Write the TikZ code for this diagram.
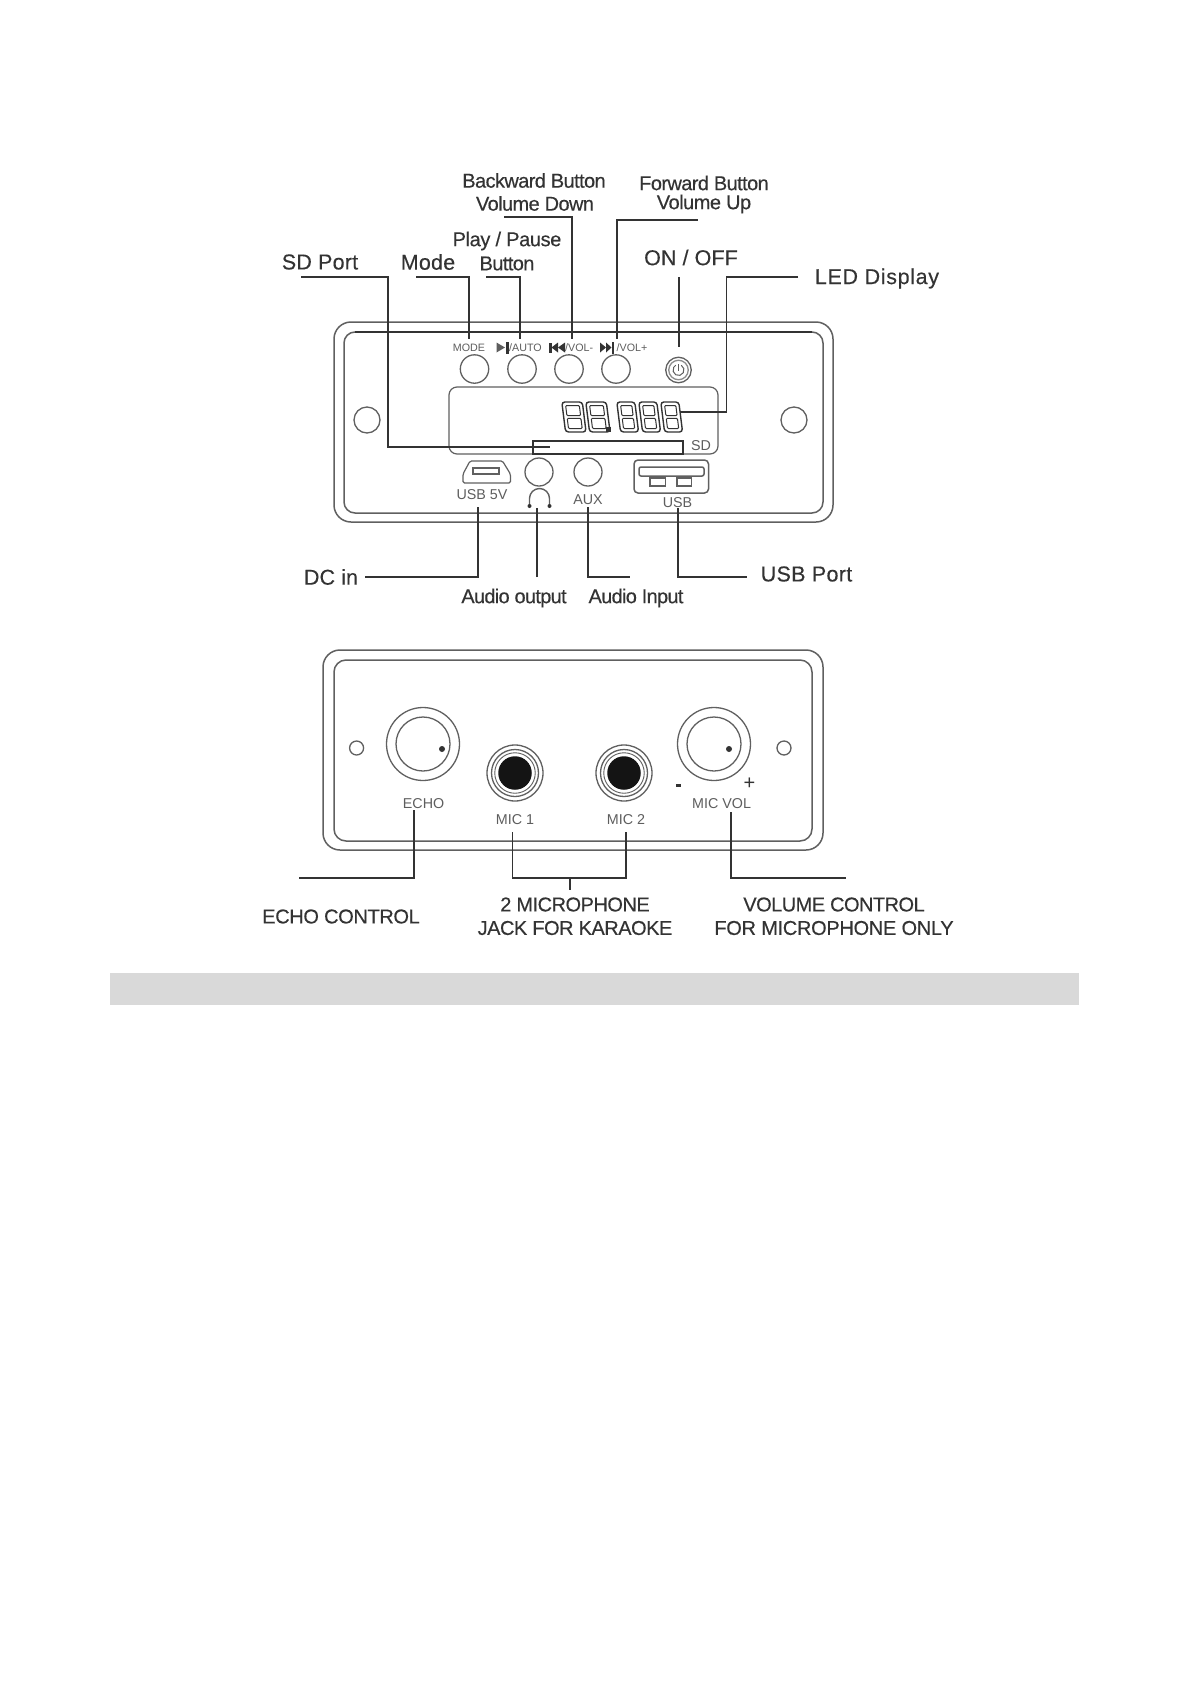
\documentclass[tikz,border=0pt]{standalone}
\usepackage{fontspec}
\setmainfont{Liberation Sans}
\definecolor{ink}{HTML}{333333}
\definecolor{panel}{HTML}{606060}
\definecolor{soft}{HTML}{5E5E5E}
\tikzset{
  lab/.style={inner sep=0pt,anchor=center,text=ink,font=\fontsize{20}{24}\selectfont\addfontfeature{LetterSpace=#1,FakeBold=0.35}},
  widelab/.style={inner sep=0pt,anchor=center,text=ink,font=\fontsize{21.5}{24}\selectfont\addfontfeature{LetterSpace=#1,FakeBold=0.25}},
  tiny/.style={inner sep=0pt,anchor=center,text=soft,font=\fontsize{10.7}{12}\selectfont},
  small/.style={inner sep=0pt,anchor=center,text=soft,font=\fontsize{14.3}{16}\selectfont},
  lead/.style={draw=ink,line width=1.35pt},
  shell/.style={draw=panel,line width=1.5pt},
  part/.style={circle,draw=panel,line width=1.3pt,inner sep=0pt,minimum size=#1},
}
\begin{document}
\begin{tikzpicture}[x=1pt,y=-1pt]
\useasboundingbox (0,0) rectangle (1191,1684);
\fill[white] (0,0) rectangle (1191,1684);
% front panel
\draw[shell,rounded corners=17pt] (334,322) rectangle (833,522);
\draw[shell,rounded corners=11pt] (344,332) rectangle (823,513);
\draw[ink,line width=1.3pt] (355,332) -- (812,332);
\node[part=26pt] (holeL) at (367,420) {};
\node[part=26pt] (holeR) at (794,420) {};
\node[part=28.4pt] (btnMode) at (474.5,369) {};
\node[part=28.4pt] (btnPlay) at (522,369) {};
\node[part=28.4pt] (btnBack) at (569,369) {};
\node[part=28.4pt] (btnFwd) at (616,369) {};
\node[part=25.5pt] (btnPower) at (678.5,370) {};
\node[part=19.5pt,draw=soft!70] (btnPowerIn) at (678.5,370) {};
\draw[soft,line width=1pt] (678.5,370) ++(-60:5.5) arc[start angle=-60,end angle=240,radius=5.5];
\draw[soft,line width=1pt] (678.5,364) -- (678.5,371);
\draw[shell,rounded corners=8pt,line width=1.2pt] (449,387) rectangle (718,454);
\draw[draw=ink,line width=1.4pt] (533,454) -- (533,441) -- (683,441) -- (683,454) -- cycle;
\foreach \d/\w in {558/20.5,582/20.5,613/18,635/18,657/18}{
  \begin{scope}[shift={(\d+3.8,402)},xslant=-0.125]
    \draw[ink,line width=1.4pt,rounded corners=3pt] (0,0) rectangle (\w,30);
    \draw[ink,line width=1pt,rounded corners=1pt] (3.4,3.5) rectangle (\w-3.4,13.6);
    \draw[ink,line width=1pt,rounded corners=1pt] (3.4,16.4) rectangle (\w-3.4,26.5);
  \end{scope}
}
\fill[ink] (605.5,427) rectangle (610.5,432);
\node[small] (lblSD) at (701,446) {SD};
% small key captions
\node[tiny] (capMode) at (469,347.5) {MODE};
\fill[soft] (496.5,342.5) -- (505,347.5) -- (496.5,352.5) -- cycle;
\fill[ink] (505.5,341.5) rectangle (509,353.5);
\node[tiny,anchor=west] (capAuto) at (509,347.5) {/AUTO};
\fill[ink] (549,342.5) rectangle (551.5,352.5);
\fill[ink] (558,342.5) -- (551.5,347.5) -- (558,352.5) -- cycle;
\fill[ink] (565,342.5) -- (558,347.5) -- (565,352.5) -- cycle;
\node[tiny,anchor=west] (capDown) at (565,347.5) {/VOL-};
\fill[ink] (600,342.5) -- (606,347.5) -- (600,352.5) -- cycle;
\fill[ink] (606,342.5) -- (611.5,347.5) -- (606,352.5) -- cycle;
\fill[ink] (611.5,341.5) rectangle (614,353.5);
\node[tiny,anchor=west] (capUp) at (616.5,347.5) {/VOL+};
% ports
\draw[shell,line width=1.2pt,rounded corners=1.5pt] (470,461) -- (502.5,461) -- (510.4,474) -- (510.4,483) -- (463,483) -- (463,474) -- cycle;
\draw[shell,line width=1.2pt] (473,468) rectangle (499,474);
\node[small] (lblUsb5) at (482,495) {USB 5V};
\node[part=28pt] (jackOut) at (539,472) {};
\node[part=28pt] (jackIn) at (588,472) {};
\draw[panel,line width=1.4pt] (529.5,505) -- (529.5,498.5) arc[start angle=180,end angle=360,radius=10] -- (549.5,505);
\fill[ink] (529.5,506) circle[radius=2];
\fill[ink] (549.5,506) circle[radius=2];
\node[small] (lblAux) at (588,500) {AUX};
\draw[shell,rounded corners=4pt] (634,460) rectangle (708.5,493);
\draw[shell,rounded corners=2pt] (639,467) rectangle (704,476);
\draw[shell] (650,478) rectangle (665.5,486);
\draw[shell] (677,478) rectangle (691.5,486);
\node[small] (lblUsb) at (677.5,503) {USB};
% front labels
\node[lab=-3] (tBack1) at (534,180.5) {Backward Button};
\node[lab=-3] (tBack2) at (535,203.5) {Volume Down};
\node[lab=-3] (tFwd1) at (704,183) {Forward Button};
\node[lab=-2.5] (tFwd2) at (704,204) {Volume Up};
\node[lab=-2] (tPlay1) at (507,241) {Play / Pause};
\node[lab=-3] (tPlay2) at (507,263.5) {Button};
\node[widelab=1] (tSd) at (320,262) {SD Port};
\node[widelab=1] (tMode) at (428,262) {Mode};
\node[widelab=0.5] (tOn) at (691,257.5) {ON / OFF};
\node[widelab=3] (tLed) at (877,278.5) {LED Display};
\node[widelab=0.5] (tDc) at (331,577) {DC in};
\node[lab=-3.5] (tOut) at (514,598) {Audio output};
\node[lab=-3.5] (tIn) at (636,598) {Audio Input};
\node[widelab=1.5] (tUsb) at (806.5,574) {USB Port};
% front leaders
\coordinate (a1) at (301,277); \coordinate (a2) at (388,277); \coordinate (a3) at (388,447); \coordinate (a4) at (550,447);
\draw[lead] (a1) -- (a2) -- (a3) -- (a4);
\coordinate (b1) at (416,277); \coordinate (b2) at (469,277); \coordinate (b3) at (469,339);
\draw[lead] (b1) -- (b2) -- (b3);
\coordinate (c1) at (486,277); \coordinate (c2) at (520,277); \coordinate (c3) at (520,339);
\draw[lead] (c1) -- (c2) -- (c3);
\coordinate (d1) at (504,217); \coordinate (d2) at (572,217); \coordinate (d3) at (572,339);
\draw[lead] (d1) -- (d2) -- (d3);
\coordinate (e1) at (697.5,220); \coordinate (e2) at (617,220); \coordinate (e3) at (617,339);
\draw[lead] (e1) -- (e2) -- (e3);
\coordinate (f1) at (679,277); \coordinate (f2) at (679,347);
\draw[lead] (f1) -- (f2);
\coordinate (g1) at (798,277); \coordinate (g2) at (726.5,277); \coordinate (g3) at (726.5,412); \coordinate (g4) at (680,412);
\draw[lead] (g1) -- (g2) -- (g3) -- (g4);
\coordinate (h1) at (365,577); \coordinate (h2) at (478,577); \coordinate (h3) at (478,507);
\draw[lead] (h1) -- (h2) -- (h3);
\coordinate (i1) at (537,577); \coordinate (i2) at (537,508);
\draw[lead] (i1) -- (i2);
\coordinate (j1) at (588,507); \coordinate (j2) at (588,577); \coordinate (j3) at (630,577);
\draw[lead] (j1) -- (j2) -- (j3);
\coordinate (k1) at (678,508); \coordinate (k2) at (678,577); \coordinate (k3) at (747,577);
\draw[lead] (k1) -- (k2) -- (k3);
% rear panel
\draw[shell,rounded corners=17pt] (323,650) rectangle (823,850);
\draw[shell,rounded corners=12pt] (334,660) rectangle (812,841);
\node[part=14pt] (rHoleL) at (356.6,748) {};
\node[part=14pt] (rHoleR) at (784,748) {};
\node[part=73pt] (echoOut) at (423,744) {};
\node[part=54pt] (echoIn) at (423,744) {};
\fill[ink] (442,749) circle[radius=3];
\node[part=73pt] (volOut) at (714,744) {};
\node[part=54pt] (volIn) at (714,744) {};
\fill[ink] (729,749) circle[radius=3];
\foreach \n/\cx in {one/515,two/624}{
  \node[part=56pt] (mic\n Out) at (\cx,773) {};
  \node[part=47pt] (mic\n Mid) at (\cx,773) {};
  \node[part=40.5pt,line width=0.9pt] (mic\n Ring) at (\cx,773) {};
  \node[circle,fill=black!92,inner sep=0pt,minimum size=33.5pt] (mic\n Hole) at (\cx,773) {};
}
\node[small] (lblEcho) at (423.6,804) {ECHO};
\node[small] (lblMic1) at (515,820) {MIC 1};
\node[small] (lblMic2) at (626,820) {MIC 2};
\node[small] (lblVol) at (721.6,804) {MIC VOL};
\fill[ink] (675.5,783.5) rectangle (680.5,786.5);
\node[inner sep=0pt,text=ink,font=\fontsize{20}{22}\selectfont] (lblPlus) at (749.5,784) {+};
\node[lab=-1.8] (tEcho) at (341,916.5) {ECHO CONTROL};
\node[lab=-2.5] (tJack1) at (575,904.5) {2 MICROPHONE};
\node[lab=-2.5] (tJack2) at (575,928) {JACK FOR KARAOKE};
\node[lab=-2.7] (tVol1) at (834,904.5) {VOLUME CONTROL};
\node[lab=-1.5] (tVol2) at (834,928) {FOR MICROPHONE ONLY};
\coordinate (m1) at (299,878); \coordinate (m2) at (414,878); \coordinate (m3) at (414,810);
\draw[lead] (m1) -- (m2) -- (m3);
\coordinate (n1) at (512.6,832); \coordinate (n2) at (512.6,878); \coordinate (n3) at (626,878); \coordinate (n4) at (626,832);
\draw[lead] (n1) -- (n2) -- (n3) -- (n4);
\coordinate (o1) at (570,878); \coordinate (o2) at (570,890);
\draw[lead] (o1) -- (o2);
\coordinate (p1) at (731,812); \coordinate (p2) at (731,878); \coordinate (p3) at (846,878);
\draw[lead] (p1) -- (p2) -- (p3);
% grey band
\fill[fill=black!15] (110,973) rectangle (1079,1005);
\end{tikzpicture}
\end{document}
